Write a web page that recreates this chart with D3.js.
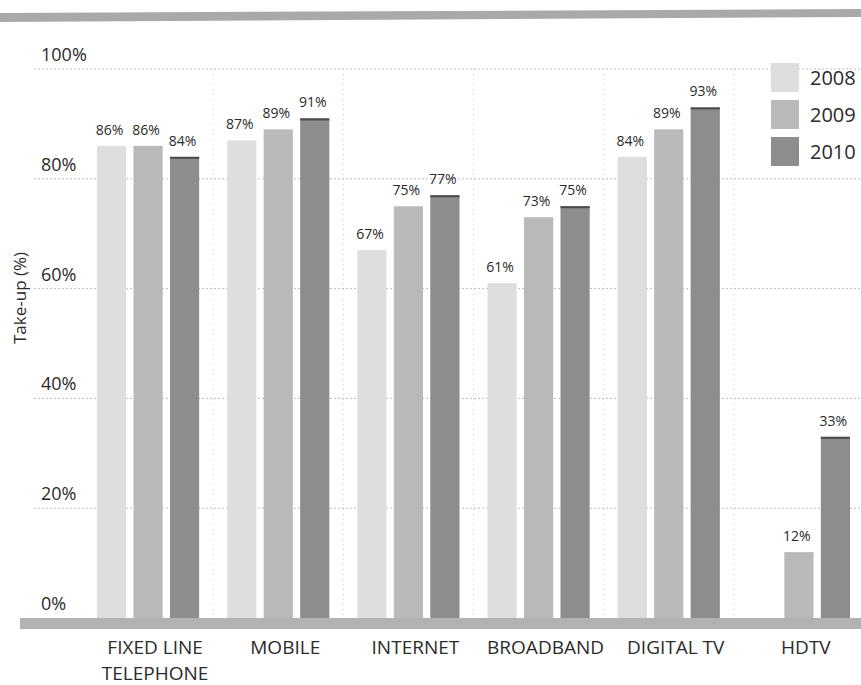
<!DOCTYPE html>
<html>
<head>
<meta charset="utf-8">
<script src="https://cdn.jsdelivr.net/npm/d3@7"></script>
<style>
  body { margin: 0; background: #fff; }
  text { font-family: 'Open Sans', sans-serif; fill: #2b2b2b; }
</style>
</head>
<body>
<div id="chart"></div>
<script>
var categories = ['FIXED LINE|TELEPHONE', 'MOBILE', 'INTERNET', 'BROADBAND', 'DIGITAL TV', 'HDTV']
var years = ['2008', '2009', '2010']
var v2008 = [86, 87, 67, 61, 84, null]
var v2009 = [86, 89, 75, 73, 89, 12]
var v2010 = [84, 91, 77, 75, 93, 33]
var yTicks = [0, 20, 40, 60, 80, 100]

var series = [v2008, v2009, v2010]
var colors = ['#dedede', '#b9b9b9', '#8d8d8d']

var width = 861
var height = 685

var svg = d3.select('#chart').append('svg')
  .attr('width', width)
  .attr('height', height)

// scanned page band at the top
svg.append('path')
  .attr('d', 'M0,13 L861,9 L861,17 L0,22 Z')
  .attr('fill', '#a9a9a9')

var x0 = d3.scaleBand()
  .domain(categories)
  .range([83, 864])
  .paddingInner(0.215)
  .paddingOuter(0.1075)

var x1 = d3.scaleBand()
  .domain(years)
  .range([0, x0.bandwidth()])
  .paddingInner(0.2)

var y = d3.scaleLinear().domain([0, 100]).range([618, 69])

// horizontal grid
svg.append('g')
  .selectAll('line')
  .data(yTicks.filter(function (d) { return d > 0 }))
  .enter().append('line')
  .attr('x1', 34)
  .attr('x2', width)
  .attr('y1', function (d) { return y(d) })
  .attr('y2', function (d) { return y(d) })
  .attr('stroke', '#bdbdbd')
  .attr('stroke-dasharray', '2,2')

// faint vertical separators between groups
svg.append('g')
  .selectAll('line')
  .data(categories.slice(1))
  .enter().append('line')
  .attr('x1', function (d) { return x0(d) - x0.step() * x0.paddingInner() / 2 })
  .attr('x2', function (d) { return x0(d) - x0.step() * x0.paddingInner() / 2 })
  .attr('y1', y(100))
  .attr('y2', y(0))
  .attr('stroke', '#cfcfcf')
  .attr('stroke-dasharray', '1,4')

// y tick labels
svg.append('g')
  .selectAll('text')
  .data(yTicks)
  .enter().append('text')
  .attr('x', 41)
  .attr('y', function (d) { return y(d) - 8 })
  .attr('font-size', 18)
  .text(function (d) { return d + '%' })

svg.append('text')
  .attr('transform', 'translate(26,298) rotate(-90)')
  .attr('text-anchor', 'middle')
  .attr('font-size', 17)
  .text('Take-up (%)')

// bars
var groups = svg.append('g')
  .selectAll('g')
  .data(categories)
  .enter().append('g')
  .attr('transform', function (d) { return 'translate(' + x0(d) + ',0)' })

groups.each(function (cat, ci) {
  var g = d3.select(this)
  years.forEach(function (yr, si) {
    var v = series[si][ci]
    if (v == null) return
    g.append('rect')
      .attr('x', x1(yr))
      .attr('y', y(v))
      .attr('width', x1.bandwidth())
      .attr('height', y(0) - y(v))
      .attr('fill', colors[si])
    if (si === 2) {
      g.append('line')
        .attr('x1', x1(yr))
        .attr('x2', x1(yr) + x1.bandwidth())
        .attr('y1', y(v) + 1)
        .attr('y2', y(v) + 1)
        .attr('stroke', '#4a4a4a')
        .attr('stroke-width', 2)
    }
    g.append('text')
      .attr('x', x1(yr) + x1.bandwidth() / 2 - 2)
      .attr('y', y(v) - 11)
      .attr('text-anchor', 'middle')
      .attr('font-size', 14)
      .text(v + '%')
  })
})

// baseline band
svg.append('rect')
  .attr('x', 20)
  .attr('y', y(0))
  .attr('width', width - 20)
  .attr('height', 11)
  .attr('fill', '#b2b2b2')

// category labels
var xl = svg.append('g')
  .selectAll('text')
  .data(categories)
  .enter().append('text')
  .attr('x', function (d) { return x0(d) + x0.bandwidth() / 2 + 7 })
  .attr('y', 654)
  .attr('text-anchor', 'middle')
  .attr('font-size', 19)

xl.each(function (d) {
  var parts = d.split('|')
  var t = d3.select(this)
  parts.forEach(function (p, i) {
    t.append('tspan')
      .attr('x', t.attr('x'))
      .attr('dy', i === 0 ? 0 : 26)
      .text(p)
  })
})

// legend
var legend = svg.append('g')
  .selectAll('g')
  .data(years)
  .enter().append('g')
  .attr('transform', function (d, i) { return 'translate(771,' + (63 + i * 37) + ')' })

legend.append('rect')
  .attr('width', 28)
  .attr('height', 29)
  .attr('fill', function (d, i) { return colors[i] })

legend.append('text')
  .attr('x', 39)
  .attr('y', 22)
  .attr('font-size', 20)
  .text(function (d) { return d })
</script>
</body>
</html>
